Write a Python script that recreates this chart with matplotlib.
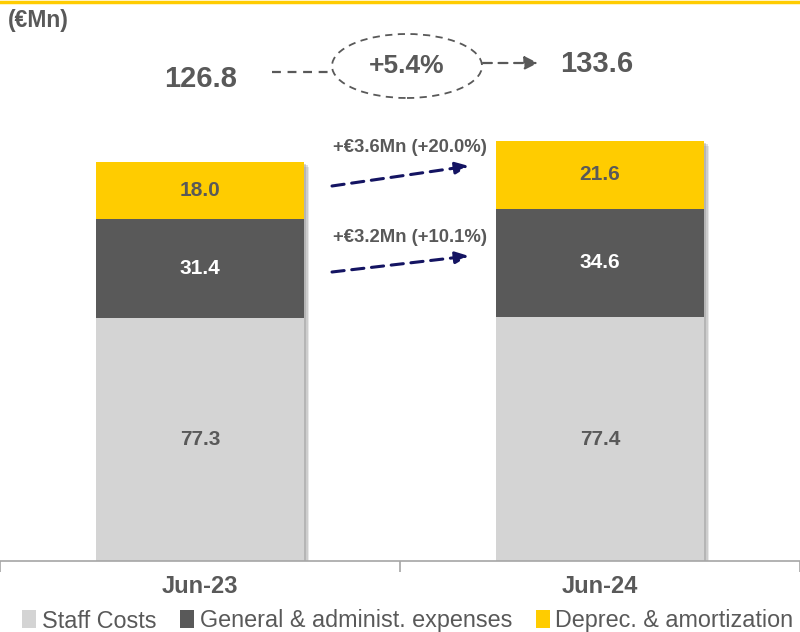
import matplotlib
matplotlib.use("Agg")
import matplotlib.pyplot as plt
from matplotlib.patches import Ellipse

# datos
periodos = ["Jun-23", "Jun-24"]
staff = [77.3, 77.4]
general = [31.4, 34.6]
deprec = [18.0, 21.6]
totales = [126.8, 133.6]
crec_total = "+5.4%"
delta_deprec = "+€3.6Mn (+20.0%)"
delta_general = "+€3.2Mn (+10.1%)"
series = ["Staff Costs", "General & administ. expenses", "Deprec. & amortization"]

GRIS_TXT = "#595959"
C_STAFF = "#D4D4D4"
C_GEN = "#595959"
C_DEP = "#FFCC00"
NAVY = "#141462"
FUENTE = ["Liberation Sans", "DejaVu Sans"]
plt.rcParams["font.family"] = FUENTE

W, H = 800, 632
fig = plt.figure(figsize=(W / 100, H / 100), dpi=100)
base_px = 561
ax = fig.add_axes([0, (H - base_px) / H, 1, base_px / H])
escala = 3.147  # px por unidad
ax.set_xlim(-0.5, 1.5)
ax.set_ylim(0, base_px / escala)


def px(x, y):
    # pixel de la figura -> coordenadas de datos
    return x / 400 - 0.5, (base_px - y) / escala


x = [0, 1]
ancho = 0.522

# sombra suave detrás de cada columna
for d, a in [(5, 0.18), (3.5, 0.25), (2, 0.3)]:
    ax.bar([i + d / 400 for i in x], totales, ancho, bottom=-d / escala,
           color="#808080", alpha=a, zorder=1, lw=0)

b1 = ax.bar(x, staff, ancho, color=C_STAFF, label=series[0], zorder=2)
b2 = ax.bar(x, general, ancho, bottom=staff, color=C_GEN, label=series[1], zorder=2)
bottom3 = [s + g for s, g in zip(staff, general)]
b3 = ax.bar(x, deprec, ancho, bottom=bottom3, color=C_DEP, label=series[2], zorder=2)

for i in x:
    ax.text(i, staff[i] / 2, f"{staff[i]:.1f}", ha="center", va="center",
            fontsize=15, fontweight="bold", color=GRIS_TXT, zorder=3)
    ax.text(i, staff[i] + general[i] / 2, f"{general[i]:.1f}", ha="center", va="center",
            fontsize=15, fontweight="bold", color="white", zorder=3)
    ax.text(i, bottom3[i] + deprec[i] / 2, f"{deprec[i]:.1f}", ha="center", va="center",
            fontsize=15, fontweight="bold", color=GRIS_TXT, zorder=3)

# ejes
for s in ["top", "right", "left"]:
    ax.spines[s].set_visible(False)
ax.spines["bottom"].set_color("#A6A6A6")
ax.spines["bottom"].set_linewidth(1.2)
ax.spines["bottom"].set_zorder(4)
ax.set_yticks([])
ax.set_xticks(x)
ax.set_xticklabels(periodos, fontsize=17, fontweight="bold", color=GRIS_TXT)
ax.tick_params(axis="x", length=0, pad=10)
ax.set_xticks([-0.5, 0.5, 1.5], minor=True)
ax.tick_params(axis="x", which="minor", length=8, color="#A6A6A6", width=1.2)

# totales y crecimiento
ax.text(*px(201, 79), f"{totales[0]:.1f}", ha="center", va="center",
        fontsize=21, fontweight="bold", color=GRIS_TXT)
ax.text(*px(597, 64), f"{totales[1]:.1f}", ha="center", va="center",
        fontsize=21, fontweight="bold", color=GRIS_TXT)
cx, cy = px(407, 66)
ax.add_patch(Ellipse((cx, cy), 150 / 400, 64 / escala, fill=False, ls=(0, (4, 3)),
                     lw=1.3, ec=GRIS_TXT))
ax.text(cx, cy, crec_total, ha="center", va="center", fontsize=19,
        fontweight="bold", color=GRIS_TXT)
ax.plot(*zip(px(272, 72), px(332, 72)), ls=(0, (4, 3)), lw=1.6, color=GRIS_TXT)
ax.annotate("", xy=px(538, 63), xytext=px(483, 63),
            arrowprops=dict(arrowstyle="-|>,head_length=0.8,head_width=0.4",
                            color=GRIS_TXT, lw=1.6, ls=(0, (4, 3)),
                            shrinkA=0, shrinkB=0))

# variaciones
for txt, (tx, ty), a0, a1 in [
    (delta_deprec, (410, 148), (332, 186), (469, 166)),
    (delta_general, (410, 238), (332, 272), (469, 256)),
]:
    ax.text(*px(tx, ty), txt, ha="center", va="center", fontsize=13.3,
            fontweight="bold", color=GRIS_TXT)
    ax.annotate("", xy=px(*a1), xytext=px(*a0),
                arrowprops=dict(arrowstyle="-|>,head_length=0.8,head_width=0.35",
                                color=NAVY, lw=2.2, ls=(0, (4, 2.5)),
                                shrinkA=0, shrinkB=0))

fig.text(8 / W, 1 - 20 / H, "(€Mn)", ha="left", va="center", fontsize=16.5,
         fontweight="bold", color=GRIS_TXT)

# línea amarilla superior
fig.add_artist(plt.Line2D([0, 1], [1 - 1.5 / H, 1 - 1.5 / H], color=C_DEP, lw=2.5,
                          transform=fig.transFigure))

leg = fig.legend(handles=[b1, b2, b3], labels=series, loc="center",
                 bbox_to_anchor=(0.51, 1 - 621 / H), ncol=3, frameon=False,
                 prop=dict(size=16.8), handlelength=0.6,
                 handleheight=0.8, handletextpad=0.25, columnspacing=1.0)
for t in leg.get_texts():
    t.set_color(GRIS_TXT)

fig.savefig("out.png", dpi=100)
